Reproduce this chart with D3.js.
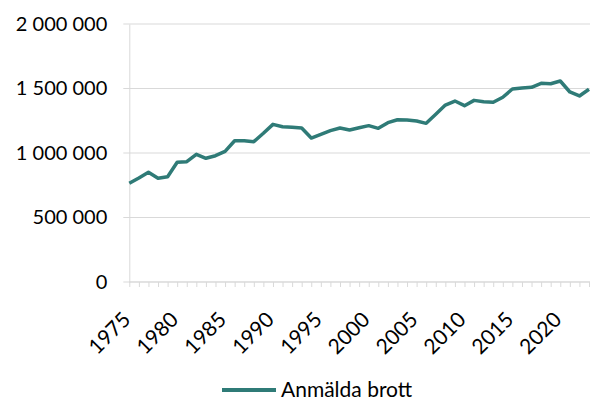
<!DOCTYPE html>
<html>
<head>
<meta charset="utf-8">
<script src="https://cdn.jsdelivr.net/npm/d3@7"></script>
<style>
  body { margin: 0; background: #fff; }
  svg { display: block; font-family: Lato, "Open Sans", sans-serif; }
</style>
</head>
<body>
<svg id="chart" width="590" height="402"></svg>
<script>
// år 1975-2023
var years = d3.range(1975, 2024);
// anmälda brott per år
var anmalda = [
  765000, 806000, 850000, 804000, 816000, 928000, 933000, 990000, 959000, 979000,
  1013000, 1095000, 1095000, 1088000, 1153000, 1222000, 1204000, 1199000, 1194000, 1116000,
  1145000, 1173000, 1194000, 1178000, 1196000, 1212000, 1191000, 1235000, 1258000, 1256000,
  1248000, 1230000, 1300000, 1372000, 1403000, 1367000, 1408000, 1398000, 1393000, 1432000,
  1496000, 1504000, 1509000, 1540000, 1537000, 1558000, 1473000, 1442000, 1494000
];
var yTicks = [0, 500000, 1000000, 1500000, 2000000];
var xLabelYears = [1975, 1980, 1985, 1990, 1995, 2000, 2005, 2010, 2015, 2020];
var seriesName = "Anmälda brott";

var svg = d3.select("#chart");
// plotytans kanter (obs: "top" är upptaget i window)
var plotL = 129.3, plotR = 589, plotT = 24, plotB = 282;
var lineColor = "#2f7b77";
var fontFam = "Lato, 'Open Sans', sans-serif";

var sv = d3.formatLocale({decimal: ",", thousands: "\u00a0", grouping: [3], currency: ["", " kr"]});
var fmt = sv.format(",");

var x = d3.scalePoint().domain(years).range([plotL, plotR]);
var y = d3.scaleLinear().domain([0, 2000000]).range([plotB, plotT]);

// stödlinjer
svg.append("g").selectAll("line").data(yTicks).enter().append("line")
  .attr("x1", plotL - 6).attr("x2", 590)
  .attr("y1", function(d) { return y(d); }).attr("y2", function(d) { return y(d); })
  .attr("stroke", "#d9d9d9").attr("stroke-width", 1);

// y-axel
var yAxis = d3.axisLeft(y).tickValues(yTicks).tickFormat(fmt).tickSize(0).tickPadding(22);
var gy = svg.append("g").attr("transform", "translate(" + plotL + ",0)").call(yAxis);
gy.select(".domain").attr("stroke", "#d9d9d9");
gy.selectAll("text").attr("font-size", 20).attr("fill", "#000")
  .attr("font-family", fontFam);

// x-axel
var xAxis = d3.axisBottom(x).tickSize(5).tickFormat(function(d) {
  return xLabelYears.indexOf(d) >= 0 ? d : "";
});
var gx = svg.append("g").attr("transform", "translate(0," + plotB + ")").call(xAxis);
gx.select(".domain").attr("stroke", "#d9d9d9").attr("d", "M" + plotL + ",0H590");
gx.selectAll(".tick line").attr("stroke", "#d9d9d9");
gx.selectAll("text")
  .attr("font-size", 21).attr("fill", "#000")
  .attr("font-family", fontFam)
  .attr("text-anchor", "end")
  .attr("dy", 0)
  .attr("transform", "translate(2,39) rotate(-45)")
  .attr("y", 0).attr("x", 0);

// linjen
var line = d3.line()
  .x(function(d, i) { return x(years[i]); })
  .y(function(d) { return y(d); });
svg.append("path").datum(anmalda)
  .attr("d", line)
  .attr("fill", "none")
  .attr("stroke", lineColor)
  .attr("stroke-width", 3.5)
  .attr("stroke-linejoin", "round");

// förklaring
var leg = svg.append("g").attr("transform", "translate(222,390)");
leg.append("line").attr("x1", 0).attr("x2", 54).attr("y1", 0).attr("y2", 0)
  .attr("stroke", lineColor).attr("stroke-width", 4);
leg.append("text").attr("x", 59).attr("y", 7).attr("font-size", 21).text(seriesName);
</script>
</body>
</html>
